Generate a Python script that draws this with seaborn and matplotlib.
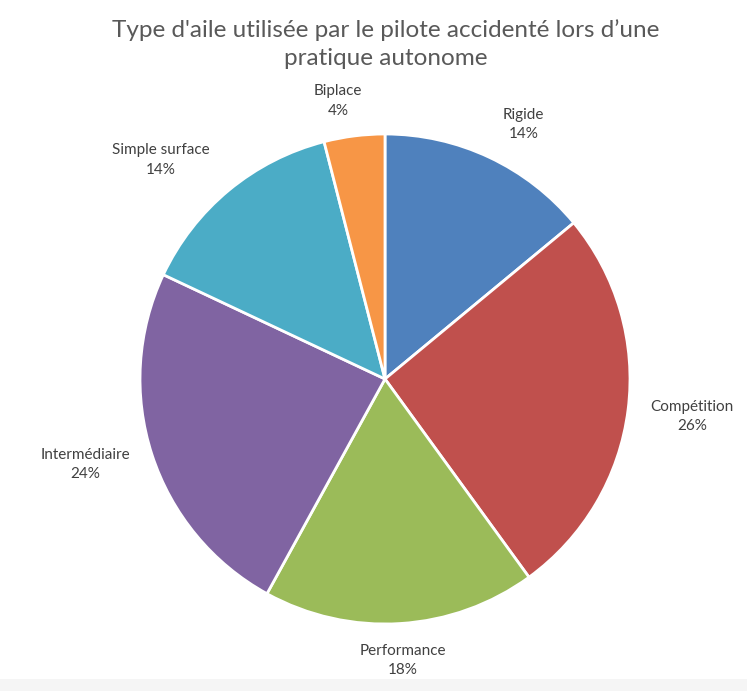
import matplotlib
matplotlib.use("Agg")
import matplotlib.pyplot as plt
import seaborn as sns
import numpy as np
from matplotlib.patches import Rectangle

categories = ["Rigide", "Compétition", "Performance", "Intermédiaire", "Simple surface", "Biplace"]
values = [14, 26, 18, 24, 14, 4]
title = "Type d'aile utilisée par le pilote accidenté lors d\u2019une\npratique autonome"

colors = ["#4F81BD", "#C0504D", "#9BBB59", "#8064A2", "#4BACC6", "#F79646"]
# label offsets (pixels) from the outer edge point of each wedge
label_offsets = [(34, 33), (64, -7), (2, -37), (-67, -10), (-68, 30), (-16, 35)]

sns.set_theme(style="white")
plt.rcParams["font.family"] = ["Lato", "DejaVu Sans"]

W, H = 747, 691
fig = plt.figure(figsize=(W / 100, H / 100), dpi=100)
fig.patches.append(Rectangle((0, 0), 1, 12 / H, transform=fig.transFigure,
                             facecolor="#f5f5f5", edgecolor="none", zorder=0))
ax = fig.add_axes([0, 0, 1, 1])
ax.set_zorder(2)
ax.patch.set_alpha(0)

cx, cy, R = 385, H - 379, 245
labels = [f"{c}\n{v}%" for c, v in zip(categories, values)]
wedges, texts = ax.pie(values, labels=labels, colors=colors, startangle=90,
                       counterclock=False, center=(cx, cy), radius=R,
                       wedgeprops=dict(edgecolor="white", linewidth=2),
                       labeldistance=1.1, frame=True)
ax.set_xlim(0, W)
ax.set_ylim(0, H)
ax.set_aspect("auto")
ax.axis("off")

for w, t, (dx, dy) in zip(wedges, texts, label_offsets):
    ang = np.deg2rad((w.theta1 + w.theta2) / 2)
    ex = cx + R * np.cos(ang)
    ey = cy + R * np.sin(ang)
    t.set_position((ex + dx, ey + dy))
    t.set_ha("center")
    t.set_va("center")
    t.set_fontsize(11)
    t.set_color("#404040")
    t.set_linespacing(1.5)
    t.set_multialignment("center")

fig.text(386 / W, 1 - 44 / H, title, ha="center", va="center", fontsize=17.5,
         color="#595959", linespacing=1.4)

fig.savefig("out.png", dpi=100)
